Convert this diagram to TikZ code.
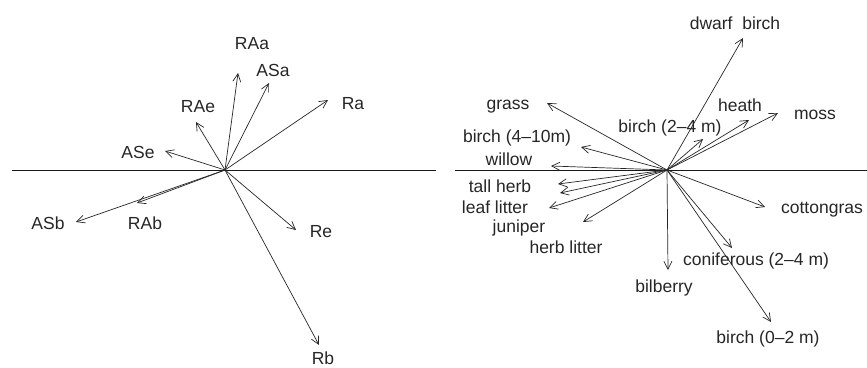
\documentclass[tikz,border=0pt]{standalone}
\usepackage{fontspec}
\setmainfont{Liberation Sans}
\usetikzlibrary{arrows.meta}
\tikzstyle{load}=[
        -{Straight Barb[length=8pt,width=8pt]},
        line width=0.7pt,
        draw=black!85
    ]
\tikzstyle{tag}=[
    inner sep=0pt,
    text height=12.5pt,
    text depth=0pt,
    text=black!85,
    font=\fontsize{17.5}{20}\selectfont
]

\begin{document}
\begin{tikzpicture}[x=1pt, y=-1pt, axis/.style = {draw=black!90, line width=1pt}]
        \useasboundingbox (0,0) rectangle (867,367);

        % left panel
        \coordinate (o1) at (225,170);
        \coordinate (w1) at (12,170);
        \coordinate (e1) at (436,170);
        \draw[axis] (w1) -- (e1);

        \coordinate (pRAa) at (238,73);
        \coordinate (pASa) at (269,83);
        \coordinate (pRa) at (328,100);
        \coordinate (pRAe) at (196,122);
        \coordinate (pASe) at (165,151);
        \coordinate (pASb) at (76,222);
        \coordinate (pRAb) at (137,203);
        \coordinate (pRe) at (296,230);
        \coordinate (pRb) at (319,345);

        \node[tag] (RAa) at (252,43) {RAa};
        \node[tag] (ASa) at (273,70) {ASa};
        \node[tag] (Ra) at (353,103) {Ra};
        \node[tag] (RAe) at (198,106) {RAe};
        \node[tag] (ASe) at (138,152) {ASe};
        \node[tag] (ASb) at (48,223) {ASb};
        \node[tag] (RAb) at (145,223) {RAb};
        \node[tag] (Re) at (321,231) {Re};
        \node[tag] (Rb) at (323,358) {Rb};

        \draw[load] (o1) -- (pRAa);
        \draw[load] (o1) -- (pASa);
        \draw[load] (o1) -- (pRa);
        \draw[load] (o1) -- (pRAe);
        \draw[load] (o1) -- (pASe);
        \draw[load] (o1) -- (pASb);
        \draw[load] (o1) -- (pRAb);
        \draw[load] (o1) -- (pRe);
        \draw[load] (o1) -- (pRb);

        % right panel
        \coordinate (o2) at (667,170);
        \coordinate (w2) at (455,170);
        \coordinate (e2) at (867,170);
        \draw[axis] (w2) -- (e2);

        \coordinate (pdwarf) at (743,38);
        \coordinate (pgrass) at (547,103);
        \coordinate (pbirchmid) at (703,139);
        \coordinate (pheath) at (749,120);
        \coordinate (pmoss) at (778,113);
        \coordinate (pbirchtall) at (581,147);
        \coordinate (pwillow) at (551,166);
        \coordinate (ptallherb) at (558,184);
        \coordinate (pleaf) at (560,193);
        \coordinate (pjuniper) at (549,208);
        \coordinate (pherblitter) at (583,222);
        \coordinate (pbilberry) at (668,270);
        \coordinate (pconifer) at (732,248);
        \coordinate (pbirchlow) at (771,322);
        \coordinate (pcotton) at (765,207);

        \node[tag] (dwarf) at (735,23) {dwarf\ \ birch};
        \node[tag] (grass) at (508,103) {grass};
        \node[tag] (birchmid) at (670,126) {birch (2–4 m)};
        \node[tag] (heath) at (740,105) {heath};
        \node[tag] (moss) at (815,113) {moss};
        \node[tag] (birchtall) at (517,136) {birch (4–10m)};
        \node[tag] (willow) at (509,159) {willow};
        \node[tag] (tallherb) at (500,186) {tall herb};
        \node[tag] (leaf) at (495,207) {leaf litter};
        \node[tag] (juniper) at (519,226) {juniper};
        \node[tag] (herblitter) at (566,247) {herb litter};
        \node[tag] (bilberry) at (664,286) {bilberry};
        \node[tag] (conifer) at (756,259) {coniferous (2–4 m)};
        \node[tag] (birchlow) at (768,337) {birch (0–2 m)};
        \node[tag] (cotton) at (822,207) {cottongras};

        \draw[load] (o2) -- (pdwarf);
        \draw[load] (o2) -- (pgrass);
        \draw[load] (o2) -- (pbirchmid);
        \draw[load] (o2) -- (pheath);
        \draw[load] (o2) -- (pmoss);
        \draw[load] (o2) -- (pbirchtall);
        \draw[load] (o2) -- (pwillow);
        \draw[load] (o2) -- (ptallherb);
        \draw[load] (o2) -- (pleaf);
        \draw[load] (o2) -- (pjuniper);
        \draw[load] (o2) -- (pherblitter);
        \draw[load] (o2) -- (pbilberry);
        \draw[load] (o2) -- (pconifer);
        \draw[load] (o2) -- (pbirchlow);
        \draw[load] (o2) -- (pcotton);

    \end{tikzpicture}
\end{document}
